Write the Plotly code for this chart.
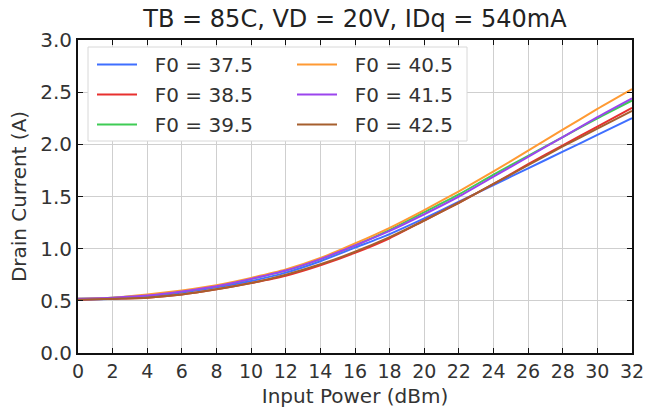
import plotly.graph_objects as go

pin = [0, 2, 4, 6, 8, 10, 12, 14, 16, 18, 20, 22, 24, 26, 28, 30, 32]
labels = ["F0 = 37.5", "F0 = 38.5", "F0 = 39.5", "F0 = 40.5", "F0 = 41.5", "F0 = 42.5"]
colors = ["#3f6fff", "#e8302f", "#3fcc55", "#ff9a33", "#9b45ee", "#a65f2e"]
id_375 = [0.51, 0.52, 0.54, 0.58, 0.63, 0.69, 0.77, 0.88, 1.01, 1.14, 1.29, 1.45, 1.61, 1.77, 1.93, 2.09, 2.25]
id_385 = [0.51, 0.52, 0.53, 0.56, 0.61, 0.67, 0.74, 0.84, 0.96, 1.10, 1.27, 1.44, 1.62, 1.81, 1.99, 2.17, 2.35]
id_395 = [0.52, 0.53, 0.55, 0.59, 0.64, 0.71, 0.79, 0.90, 1.03, 1.18, 1.35, 1.52, 1.71, 1.89, 2.07, 2.25, 2.42]
id_405 = [0.52, 0.53, 0.56, 0.60, 0.65, 0.72, 0.80, 0.91, 1.05, 1.20, 1.37, 1.55, 1.74, 1.94, 2.14, 2.34, 2.53]
id_415 = [0.52, 0.53, 0.55, 0.59, 0.64, 0.71, 0.79, 0.90, 1.03, 1.17, 1.33, 1.50, 1.69, 1.88, 2.07, 2.26, 2.44]
id_425 = [0.51, 0.52, 0.53, 0.56, 0.61, 0.67, 0.75, 0.85, 0.97, 1.11, 1.27, 1.44, 1.62, 1.80, 1.98, 2.15, 2.32]
series = [id_375, id_385, id_395, id_405, id_415, id_425]

fig = go.Figure()
for i, (lab, col, ys) in enumerate(zip(labels, colors, series)):
    fig.add_trace(go.Scatter(
        x=pin, y=ys, mode="lines", name="\u00a0\u00a0" + lab,
        line=dict(color=col, width=2, shape="spline", smoothing=0.6),
        legend="legend" if i < 3 else "legend2",
        legendgroup=lab,
    ))

font = "DejaVu Sans"
txt = "#333333"
L, R, T, B = 78, 22, 40, 59
W, H = 654, 412
PW, PH = W - L - R, H - T - B

axis_common = dict(
    showline=True, linecolor="#111111", linewidth=2, mirror="ticks",
    ticks="inside", ticklen=5, tickwidth=1.3, tickcolor="#111111",
    showgrid=True, gridcolor="#cfcfcf", gridwidth=1.2, zeroline=False,
    automargin=False,
)

leg_common = dict(xanchor="left", yanchor="top", bgcolor="rgba(0,0,0,0)",
                  font=dict(family=font, size=20, color=txt), tracegroupgap=1,
                  traceorder="grouped", itemwidth=40)

fig.update_layout(
    width=W, height=H,
    margin=dict(l=L, r=R, t=T, b=B),
    plot_bgcolor="white", paper_bgcolor="white",
    title=dict(text="TB = 85C, VD = 20V, IDq = 540mA", x=(L + PW / 2) / W, xanchor="center",
               y=1 - 19 / H, yanchor="middle",
               font=dict(family=font, size=24, color="#222222")),
    xaxis=dict(range=[0, 32], tickmode="array", tickvals=list(range(0, 33, 2)),
               tickfont=dict(family=font, size=19, color=txt),
               title=dict(text="Input Power (dBm)", font=dict(family=font, size=20, color=txt), standoff=8),
               **axis_common),
    yaxis=dict(range=[0, 3], tickmode="array", tickvals=[0, 0.5, 1.0, 1.5, 2.0, 2.5, 3.0],
               ticktext=["0.0", "0.5", "1.0", "1.5", "2.0", "2.5", "3.0"],
               tickfont=dict(family=font, size=20, color=txt),
               title=dict(text="Drain Current (A)", font=dict(family=font, size=20, color=txt), standoff=8),
               **axis_common),
    legend=dict(x=(92 - L) / PW, y=(H - B - 45) / PH, **leg_common),
    legend2=dict(x=(292 - L) / PW, y=(H - B - 45) / PH, **leg_common),
    shapes=[dict(type="rect", xref="paper", yref="paper",
                 x0=(88 - L) / PW, x1=(467 - L) / PW,
                 y0=(H - B - 141) / PH, y1=(H - B - 47) / PH,
                 line=dict(color="#d8d8d8", width=1), fillcolor="white", layer="above")],
)

fig.write_html("out.html")
